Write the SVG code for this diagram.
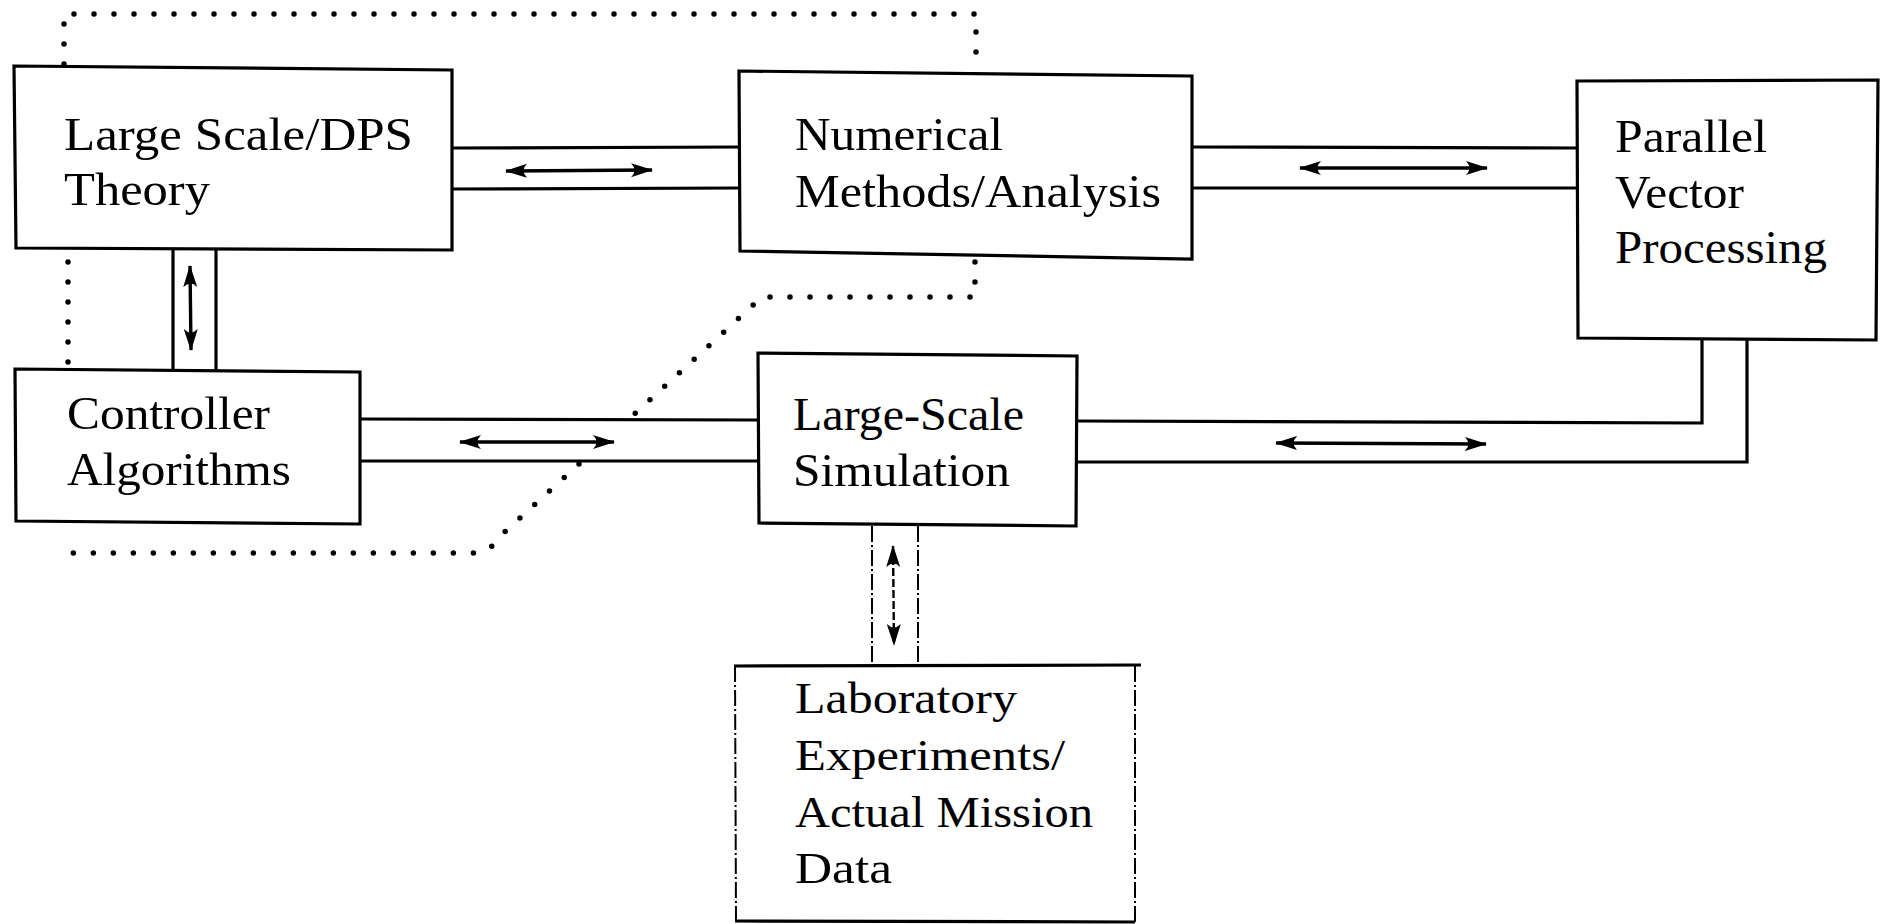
<svg xmlns="http://www.w3.org/2000/svg" width="1886" height="924" viewBox="0 0 1886 924">
<defs>
<style>
.box{fill:none;stroke:#000;stroke-width:3.2}
.ln{fill:none;stroke:#000;stroke-width:3.2}
.dd{fill:none;stroke:#000;stroke-width:2;stroke-dasharray:16 3 2 3}
.dot{fill:none;stroke:#000;stroke-width:5.5;stroke-linecap:round;stroke-dasharray:0 20}
.arr{fill:none;stroke:#000;stroke-width:3.4;marker-start:url(#ah);marker-end:url(#ah)}
.arrd{fill:none;stroke:#000;stroke-width:2.4;stroke-dasharray:8 3;marker-start:url(#ah);marker-end:url(#ah)}
text{font-family:"Liberation Serif","DejaVu Serif",serif;font-size:47px;fill:#000}
.t6{font-size:45px}
</style>
<marker id="ah" viewBox="0 0 22 16" refX="21" refY="8" markerWidth="22" markerHeight="16" markerUnits="userSpaceOnUse" orient="auto-start-reverse">
<path d="M0,1 Q7,8 0,15 L22,8 Z" fill="#000"/>
</marker>
</defs>
<rect width="1886" height="924" fill="#fff"/>
<g id="connectors">
<line class="ln" x1="452" y1="148" x2="740" y2="147"/>
<line class="ln" x1="452" y1="189" x2="740" y2="188"/>
<line class="arr" x1="506" y1="171" x2="652" y2="170"/>
<line class="ln" x1="1191" y1="147" x2="1577" y2="148"/>
<line class="ln" x1="1191" y1="188" x2="1577" y2="188"/>
<line class="arr" x1="1300" y1="168" x2="1487" y2="168"/>
<line class="ln" x1="173" y1="250" x2="173" y2="370"/>
<line class="ln" x1="216" y1="250" x2="216" y2="370"/>
<line class="arr" x1="190" y1="266" x2="191" y2="350"/>
<line class="ln" x1="360" y1="419" x2="758" y2="420"/>
<line class="ln" x1="360" y1="461" x2="758" y2="461"/>
<line class="arr" x1="460" y1="442" x2="614" y2="442"/>
<polyline class="ln" points="1076,421 1702,423 1702,340"/>
<polyline class="ln" points="1076,462 1747,462 1747,340"/>
<line class="arr" x1="1276" y1="443" x2="1486" y2="444"/>
<line class="dd" x1="872" y1="526" x2="872" y2="665"/>
<line class="dd" x1="918" y1="526" x2="918" y2="665"/>
<line class="arrd" x1="893" y1="546" x2="894" y2="645"/>
<path class="dot" d="M64,64 V14 H976 V72"/>
<path class="dot" d="M68,262 V366"/>
<path class="dot" d="M975,262 V297 H762 L630,418"/>
<path class="dot" d="M579,464 L498,538 Q490,553 472,553 H68"/>
</g>
<g id="n1">
<polygon class="box" points="14,66 452,70 452,250 16,248"/>
<text x="64" y="150" textLength="349" lengthAdjust="spacingAndGlyphs">Large Scale/DPS</text>
<text x="64" y="205" textLength="146" lengthAdjust="spacingAndGlyphs">Theory</text>
</g>
<g id="n2">
<polygon class="box" points="739,71 1192,76 1192,259 740,251"/>
<text x="795" y="150" textLength="208" lengthAdjust="spacingAndGlyphs">Numerical</text>
<text x="795" y="207" textLength="366" lengthAdjust="spacingAndGlyphs">Methods/Analysis</text>
</g>
<g id="n3">
<polygon class="box" points="1577,81 1878,80 1876,340 1578,338"/>
<text x="1615" y="152" textLength="152" lengthAdjust="spacingAndGlyphs">Parallel</text>
<text x="1615" y="208" textLength="129" lengthAdjust="spacingAndGlyphs">Vector</text>
<text x="1615" y="263" textLength="212" lengthAdjust="spacingAndGlyphs">Processing</text>
</g>
<g id="n4">
<polygon class="box" points="15,369 360,372 360,524 16,521"/>
<text x="67" y="429" textLength="203" lengthAdjust="spacingAndGlyphs">Controller</text>
<text x="67" y="485" textLength="224" lengthAdjust="spacingAndGlyphs">Algorithms</text>
</g>
<g id="n5">
<polygon class="box" points="758,353 1077,356 1076,526 759,523"/>
<text x="793" y="430" textLength="231" lengthAdjust="spacingAndGlyphs">Large-Scale</text>
<text x="793" y="486" textLength="217" lengthAdjust="spacingAndGlyphs">Simulation</text>
</g>
<g id="n6">
<line class="ln" x1="734" y1="666" x2="1141" y2="665"/>
<line class="ln" x1="735" y1="921" x2="1135" y2="922"/>
<line class="dd" x1="735" y1="666" x2="736" y2="921"/>
<line class="dd" x1="1135" y1="666" x2="1135" y2="922"/>
<text class="t6" x="795" y="713" textLength="222" lengthAdjust="spacingAndGlyphs">Laboratory</text>
<text class="t6" x="795" y="770" textLength="270" lengthAdjust="spacingAndGlyphs">Experiments/</text>
<text class="t6" x="795" y="827" textLength="298" lengthAdjust="spacingAndGlyphs">Actual Mission</text>
<text class="t6" x="795" y="883" textLength="97" lengthAdjust="spacingAndGlyphs">Data</text>
</g>
</svg>
